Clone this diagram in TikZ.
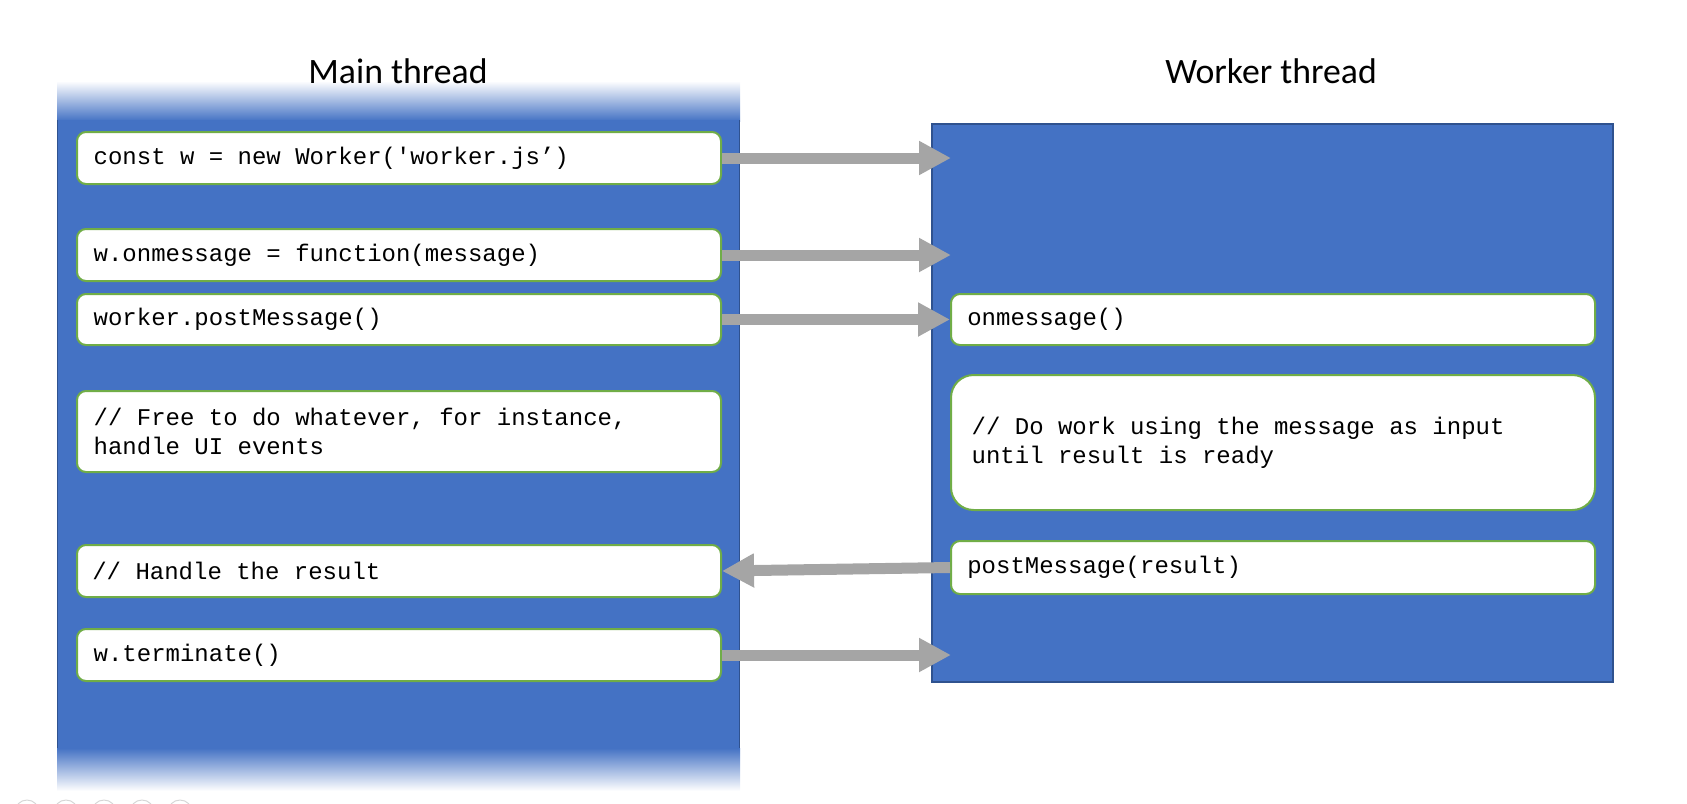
\documentclass[tikz,border=0pt]{standalone}
\usepackage{fontspec}
\setmainfont{Carlito}
\setmonofont{Liberation Mono}
\usetikzlibrary{arrows.meta}
\definecolor{panelblue}{HTML}{4472C4}
\definecolor{paneledge}{HTML}{2F528F}
\definecolor{boxgreen}{HTML}{70AD47}
\definecolor{arrowgray}{HTML}{A5A5A5}
\definecolor{dotgray}{HTML}{D6D6D6}
\newcommand\codefont{\ttfamily\fontsize{18}{21.75}\selectfont}
\begin{document}
\begin{tikzpicture}[x=0.75pt,y=-0.75pt,
  codebox/.style={draw=boxgreen, line width=1.5pt, fill=white,
    rounded corners=6.75pt, anchor=north west, inner xsep=12.5pt, inner ysep=0pt,
    text width=458pt, minimum width=483pt, align=left, text=black,
    font=\codefont, execute at begin node={\spaceskip=0.6em\xspaceskip=0.6em\relax}},
  titletext/.style={font=\fontsize{26.8}{32}\selectfont, anchor=base, inner sep=0pt},
  flow/.style={draw=arrowgray, line width=8.25pt, -{Triangle[length=24pt,width=24pt]}}]
\useasboundingbox (0,0) rectangle (1687,803);
% main thread panel
\shade[top color=white, bottom color=panelblue] (57,81) rectangle (740,121);
\fill[panelblue] (57,120) rectangle (740,749);
\shade[top color=panelblue, bottom color=white] (57,748) rectangle (740,791);
\draw[paneledge, line width=1pt] (57.5,120) -- (57.5,748) (739.5,120) -- (739.5,748);
% worker thread panel
\node[draw=paneledge, line width=1.2pt, fill=panelblue, anchor=north west,
  minimum width=510.75pt, minimum height=418.5pt, inner sep=0pt] (wp) at (931,123) {};
% titles
\node[titletext] (tm) at (398,83) {Main thread};
\node[titletext] (tw) at (1271,83) {Worker thread};
% main boxes
\node[codebox, minimum height=39pt] (m1) at (76,131) {const w = new Worker('worker.js’)};
\node[codebox, minimum height=39pt] (m2) at (76,228) {w.onmessage = function(message)};
\node[codebox, minimum height=38.25pt] (m3) at (76,293) {worker.postMessage()};
\node[codebox, minimum height=60.75pt] (m4) at (76,390) {// Free to do whatever, for instance,\\handle UI events};
\node[codebox, minimum height=39pt, inner xsep=11.5pt, text width=460pt] (m5) at (76,544) {// Handle the result};
\node[codebox, minimum height=39pt] (m6) at (76,628) {w.terminate()};
% worker boxes
\node[codebox, minimum height=38.25pt, inner xsep=12.25pt, text width=458.5pt] (w1) at (950,293) {onmessage()};
\node[codebox, minimum height=101.25pt, rounded corners=17pt, inner xsep=15.5pt, text width=452pt] (w2) at (950,374) {// Do work using the message as input\\until result is ready};
\node[codebox, minimum height=39.75pt, inner xsep=12.25pt, text width=458.5pt] (w3) at (950,540) {postMessage(result)};
% arrow target line (tips end here)
\coordinate (tx) at (951,0);
% arrows
\draw[flow] (m1.east) -- (m1.east -| tx);
\draw[flow] (m2.east) -- (m2.east -| tx);
\draw[flow] (m3.east) -- (w1.west);
\draw[flow] (w3.west) -- (m5.east);
\draw[flow] (m6.east) -- (m6.east -| tx);
% faint page dots at bottom edge
\foreach \cx in {27,66,104,142,180}
  \draw[dotgray, line width=0.75pt] (\cx,812) circle[radius=9pt];
\end{tikzpicture}
\end{document}
